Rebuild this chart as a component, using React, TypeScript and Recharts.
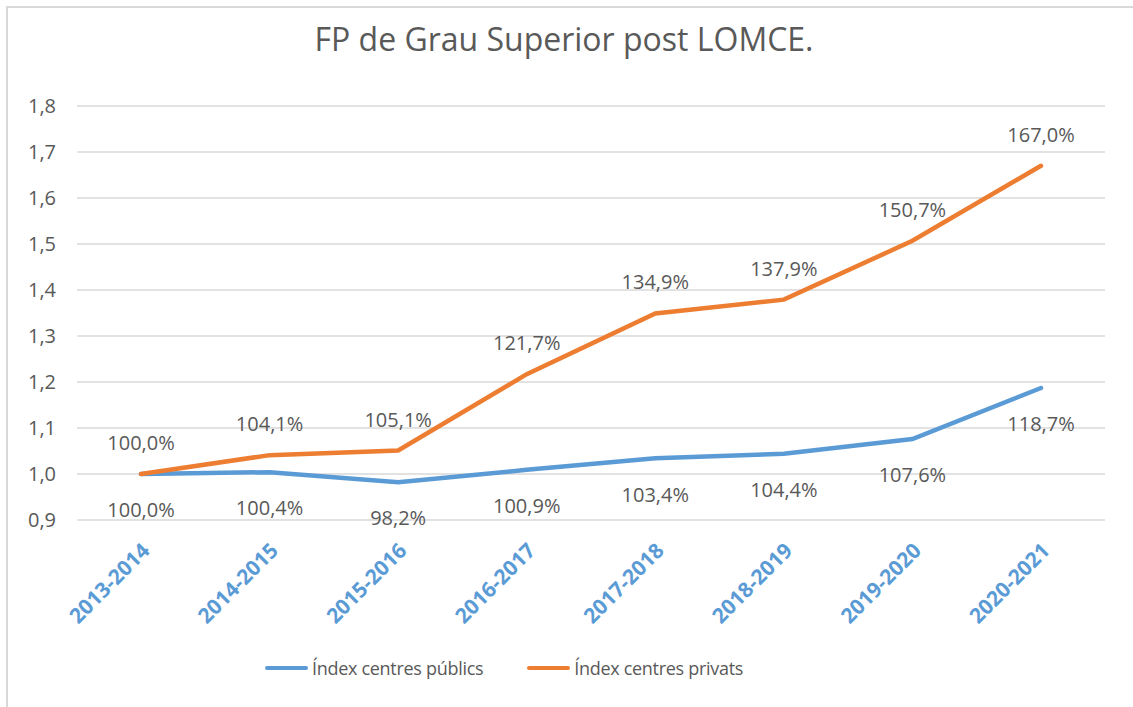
import React from "react";
import { LineChart, Line, XAxis, YAxis, CartesianGrid, LabelList } from "recharts";

const years = ["2013-2014", "2014-2015", "2015-2016", "2016-2017", "2017-2018", "2018-2019", "2019-2020", "2020-2021"];
const publics = [1.0, 1.004, 0.982, 1.009, 1.034, 1.044, 1.076, 1.187];
const privats = [1.0, 1.041, 1.051, 1.217, 1.349, 1.379, 1.507, 1.67];
const yTicks = [0.9, 1.0, 1.1, 1.2, 1.3, 1.4, 1.5, 1.6, 1.7, 1.8];
const seriesNames = ["Índex centres públics", "Índex centres privats"];

const data = years.map((y, i) => ({ year: y, publics: publics[i], privats: privats[i] }));

const FONT = "'Open Sans', sans-serif";
const GREY = "#595959";
const BLUE = "#5b9bd5";
const ORANGE = "#ed7d31";

const pct = (v: number) => (v * 100).toFixed(1).replace(".", ",") + "%";

function YearTick(props: any) {
  const { x, y, payload } = props;
  return (
    <g transform={`translate(${x + 5},${y + 19}) rotate(-45)`}>
      <text x={0} y={0} dy={7} textAnchor="end" fill={BLUE} fontSize={21} fontWeight={700} fontFamily={FONT}>
        {payload.value}
      </text>
    </g>
  );
}

export default function App() {
  return (
    <div style={{ position: "absolute", left: 0, top: 0, width: 1133, height: 707, background: "#fff", fontFamily: FONT }}>
      <div style={{ position: "absolute", left: 6, top: 6, right: 0, bottom: 0, borderTop: "2px solid #d9d9d9", borderLeft: "2px solid #d9d9d9" }} />
      <div style={{ position: "absolute", left: 0, width: 1128, top: 17, textAlign: "center", fontSize: 32, color: GREY }}>
        FP de Grau Superior post LOMCE.
      </div>
      <LineChart
        width={1133}
        height={707}
        data={data}
        margin={{ top: 106, right: 28, left: 17, bottom: 87 }}
        style={{ position: "absolute", left: 0, top: 0 }}
      >
        <CartesianGrid vertical={false} stroke="#d9d9d9" strokeWidth={1.5} />
        <XAxis
          dataKey="year"
          padding={{ left: 64, right: 64 }}
          axisLine={false}
          tickLine={false}
          interval={0}
          height={100}
          tick={<YearTick />}
        />
        <YAxis
          domain={[0.9, 1.8]}
          ticks={yTicks}
          width={60}
          axisLine={false}
          tickLine={false}
          tickSize={0}
          tickMargin={21}
          tickFormatter={(v: number) => v.toFixed(1).replace(".", ",")}
          tick={{ fill: GREY, fontSize: 20, fontFamily: FONT }}
        />
        <Line
          dataKey="publics"
          name={seriesNames[0]}
          stroke={BLUE}
          strokeWidth={4.5}
          strokeLinecap="round"
          dot={false}
          isAnimationActive={false}
        >
          <LabelList dataKey="publics" position="bottom" offset={29} formatter={pct} fill={GREY} fontSize={20} fontFamily={FONT} />
        </Line>
        <Line
          dataKey="privats"
          name={seriesNames[1]}
          stroke={ORANGE}
          strokeWidth={4.5}
          strokeLinecap="round"
          dot={false}
          isAnimationActive={false}
        >
          <LabelList dataKey="privats" position="top" offset={24} formatter={pct} fill={GREY} fontSize={20} fontFamily={FONT} />
        </Line>
      </LineChart>
      <div style={{ position: "absolute", left: 265, top: 656, display: "flex", gap: 44, fontSize: 18, letterSpacing: -0.3, color: GREY }}>
        {seriesNames.map((n, i) => (
          <div key={n} style={{ display: "flex", alignItems: "center" }}>
            <span style={{ display: "inline-block", width: 43, height: 4, borderRadius: 2, background: i === 0 ? BLUE : ORANGE, marginRight: 4 }} />
            <span>{n}</span>
          </div>
        ))}
      </div>
    </div>
  );
}
